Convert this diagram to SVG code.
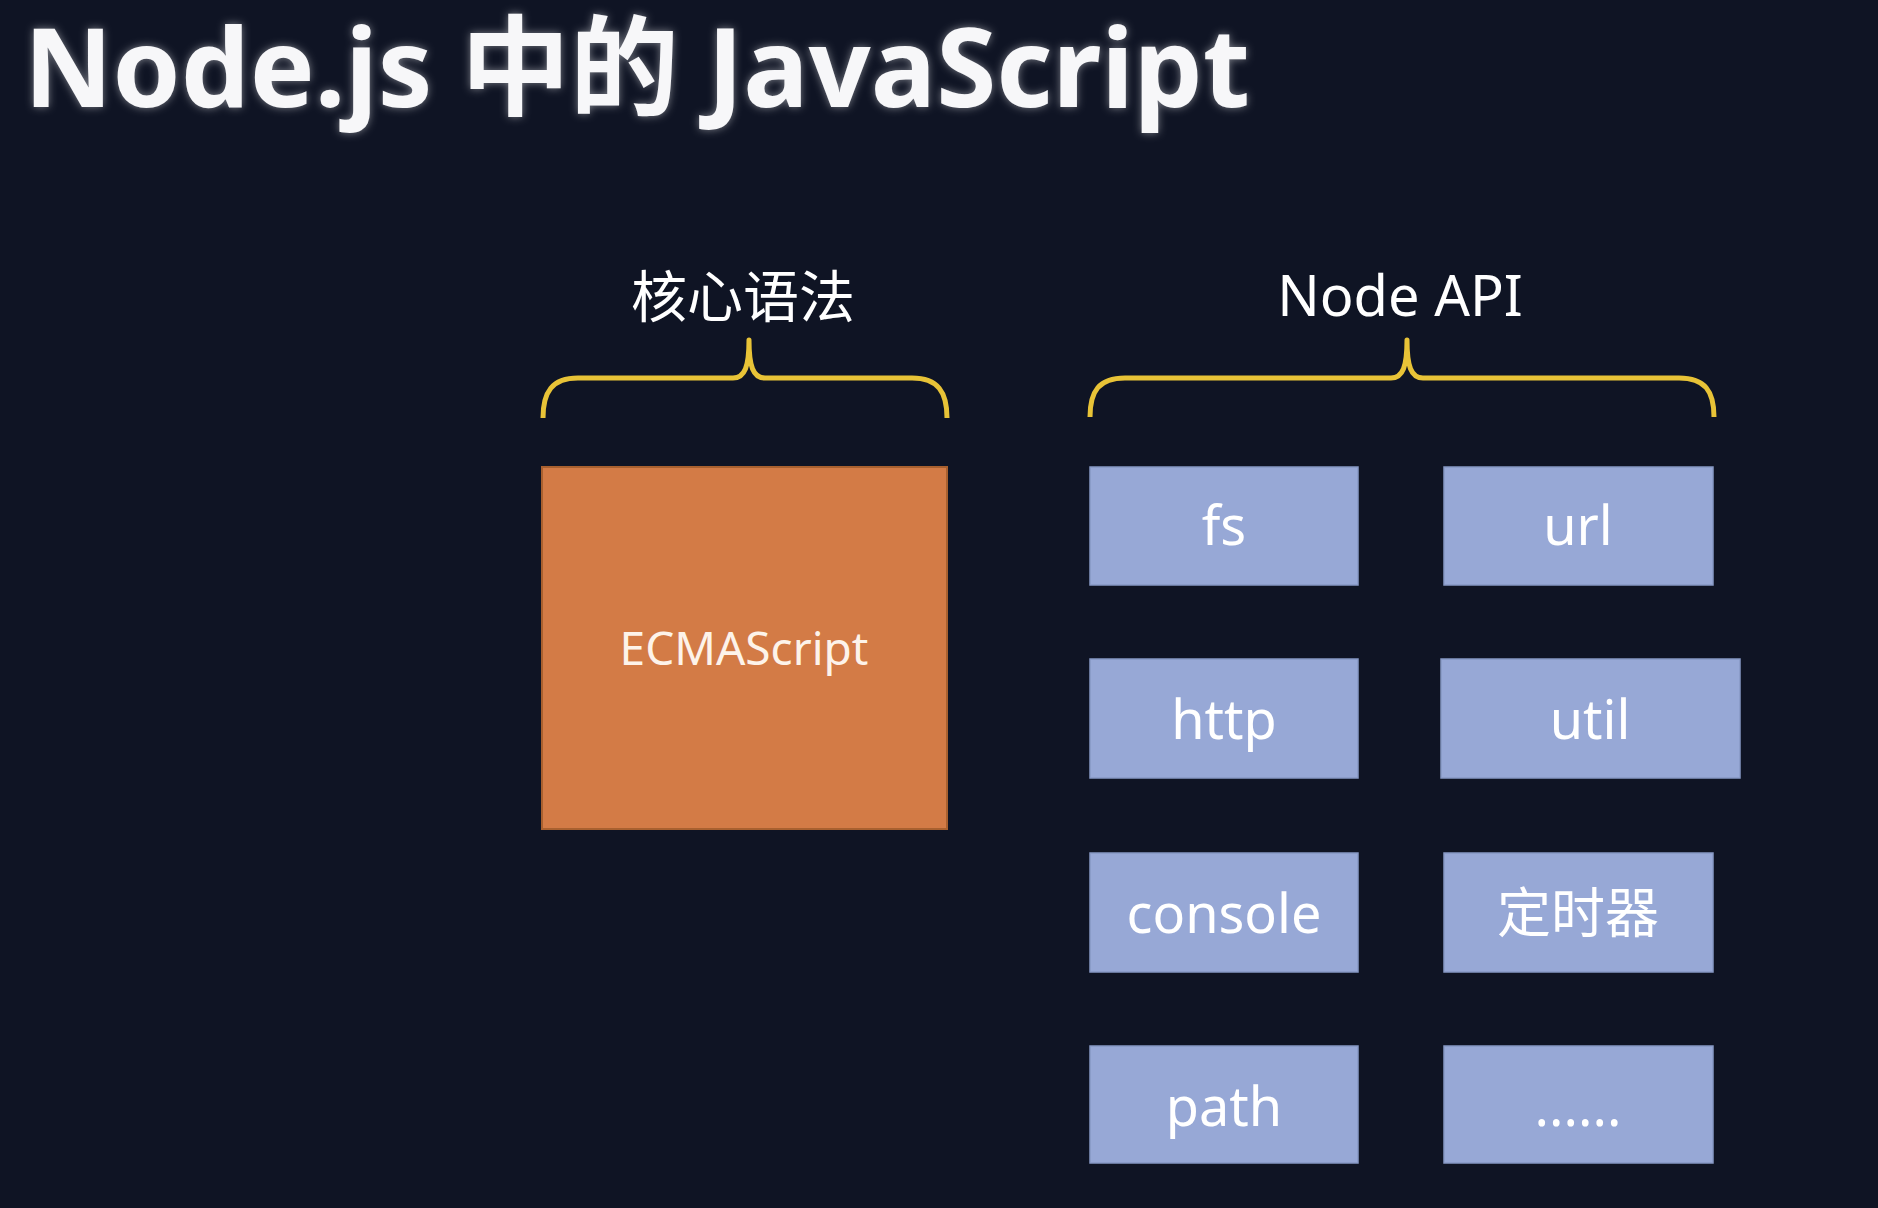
<svg xmlns="http://www.w3.org/2000/svg" width="1878" height="1208" viewBox="0 0 1878 1208">
  <defs>
    <style>
      .title { font-family: "Noto Sans", "Noto Sans CJK SC", sans-serif; font-weight: 700; font-size: 109px; fill: #f7f7f9; }
      .head { font-family: "Noto Sans", "Noto Sans CJK SC", sans-serif; font-size: 56px; fill: #ffffff; text-anchor: middle; }
      .lbl { font-family: "Noto Sans", "Noto Sans CJK SC", sans-serif; font-size: 54px; fill: #ffffff; text-anchor: middle; }
      .ecma { font-family: "Noto Sans", "Noto Sans CJK SC", sans-serif; font-size: 46px; fill: #fdf3ea; text-anchor: middle; }
      .api { fill: #97a8d6; stroke: #8798c4; stroke-width: 1.5; }
      .core { fill: #d37b46; stroke: #a8602f; stroke-width: 2; }
      .brace { fill: none; stroke: #e8c337; stroke-width: 5; stroke-linecap: butt; stroke-linejoin: round; }
    </style>
    <filter id="glow" filterUnits="userSpaceOnUse" x="0" y="0" width="1400" height="150">
      <feGaussianBlur in="SourceAlpha" stdDeviation="4" result="b"/>
      <feFlood flood-color="#ffffff" flood-opacity="0.45"/>
      <feComposite in2="b" operator="in" result="g"/>
      <feMerge>
        <feMergeNode in="g"/>
        <feMergeNode in="SourceGraphic"/>
      </feMerge>
    </filter>
  </defs>

  <rect x="0" y="0" width="1878" height="1208" fill="#0f1424"/>

  <text id="title" class="title" x="24" y="107" textLength="1226" filter="url(#glow)">Node.js 中的 JavaScript</text>

  <g id="braces">
    <path class="brace" d="M543,418 C543,392 552,378 578,378 L733,378 C745,378 749,366 749,340 C749,366 753,378 765,378 L912,378 C938,378 947,392 947,418"/>
    <path class="brace" d="M1090,417 C1090,391 1099,378 1125,378 L1391,378 C1403,378 1407,366 1407,340 C1407,366 1411,378 1423,378 L1679,378 C1705,378 1714,391 1714,417"/>
  </g>

  <g id="head-core"><text class="head" x="743" y="317">核心语法</text></g>
  <g id="head-api"><text class="head" x="1400" y="316">Node API</text></g>

  <g id="ecmascript">
    <rect class="core" x="542" y="467" width="405" height="362"/>
    <text class="ecma" x="744" y="665">ECMAScript</text>
  </g>

  <g id="fs">
    <rect class="api" x="1090" y="467" width="268" height="118"/>
    <text class="lbl" x="1224" y="545">fs</text>
  </g>
  <g id="url">
    <rect class="api" x="1444" y="467" width="269" height="118"/>
    <text class="lbl" x="1578" y="545">url</text>
  </g>
  <g id="http">
    <rect class="api" x="1090" y="659" width="268" height="119"/>
    <text class="lbl" x="1224" y="739">http</text>
  </g>
  <g id="util">
    <rect class="api" x="1441" y="659" width="299" height="119"/>
    <text class="lbl" x="1590" y="739">util</text>
  </g>
  <g id="console">
    <rect class="api" x="1090" y="853" width="268" height="119"/>
    <text class="lbl" x="1224" y="933">console</text>
  </g>
  <g id="timer">
    <rect class="api" x="1444" y="853" width="269" height="119"/>
    <text class="lbl" x="1578" y="933">定时器</text>
  </g>
  <g id="path">
    <rect class="api" x="1090" y="1046" width="268" height="117"/>
    <text class="lbl" x="1224" y="1126">path</text>
  </g>
  <g id="more">
    <rect class="api" x="1444" y="1046" width="269" height="117"/>
    <text class="lbl" x="1578" y="1126">......</text>
  </g>
</svg>
